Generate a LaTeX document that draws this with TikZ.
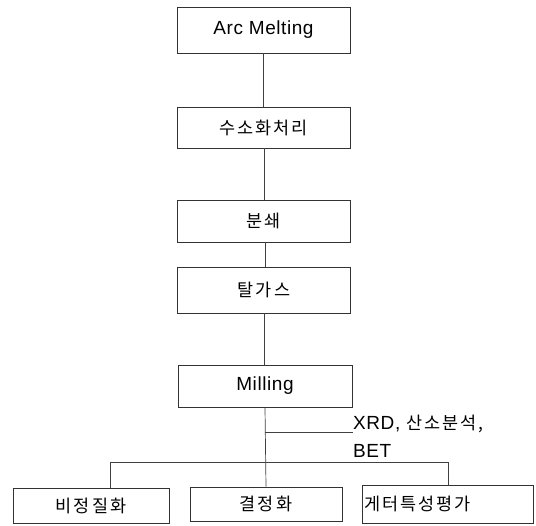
\documentclass[tikz,border=0pt]{standalone}
\usepackage{fontspec}
\setmainfont{Liberation Sans}[LetterSpace=3]
\newfontfamily\kr{Noto Sans CJK KR}[Scale=0.92, LetterSpace=12]
\begin{document}
\begin{tikzpicture}[x=1pt,y=-1pt,
  font=\fontsize{19}{22}\selectfont,
  stepbox/.style={draw=black!80, line width=0.8pt, inner sep=0pt, minimum width=173pt, minimum height=44pt},
  link/.style={draw=black!75, line width=0.7pt}]
\useasboundingbox (0,0) rectangle (536,526);
\node[stepbox, minimum height=46pt] (arc) at (263.5,30) {Arc Melting};
\node[stepbox, minimum height=41pt] (hyd) at (263.5,127.5) {\kr 수소화처리};
\node[stepbox, minimum height=42pt] (crush) at (263.5,221) {\kr 분쇄};
\node[stepbox, minimum height=46pt] (degas) at (264,290) {\kr 탈가스};
\node[stepbox, minimum height=42pt, minimum width=174pt] (mill) at (265,386) {Milling};
\node[stepbox, minimum width=156pt, minimum height=35pt] (amor) at (91,505.5) {\kr 비정질화};
\node[stepbox, minimum width=152pt, minimum height=34pt] (cryst) at (266,504) {\kr 결정화};
\node[stepbox, minimum width=171pt, minimum height=38pt, text width=167pt, inner xsep=2pt, align=left] (getter) at (447.5,504) {\kr 게터특성평가};
\node[anchor=west, align=left, inner sep=0pt, font=\fontsize{19}{28}\selectfont] (lab) at (353,436) {XRD, {\kr 산소분석,}\\BET};
\coordinate (br) at (265,432);
\coordinate (hl) at (110,462);
\coordinate (hr) at (448,462);
\draw[link] (arc.south -| 263,0) -- (hyd.north -| 263,0);
\draw[link] (hyd.south -| 264,0) -- (crush.north -| 264,0);
\draw[link] (crush.south -| 265,0) -- (degas.north -| 265,0);
\draw[link] (degas.south -| 264,0) -- (mill.north -| 264,0);
\draw[link] (mill.south) -- (cryst.north);
\draw[link] (br) -- (br -| lab.west);
\draw[link] (amor.north -| hl) -- (hl) -- (hr) -- (getter.north -| hr);
\end{tikzpicture}
\end{document}
